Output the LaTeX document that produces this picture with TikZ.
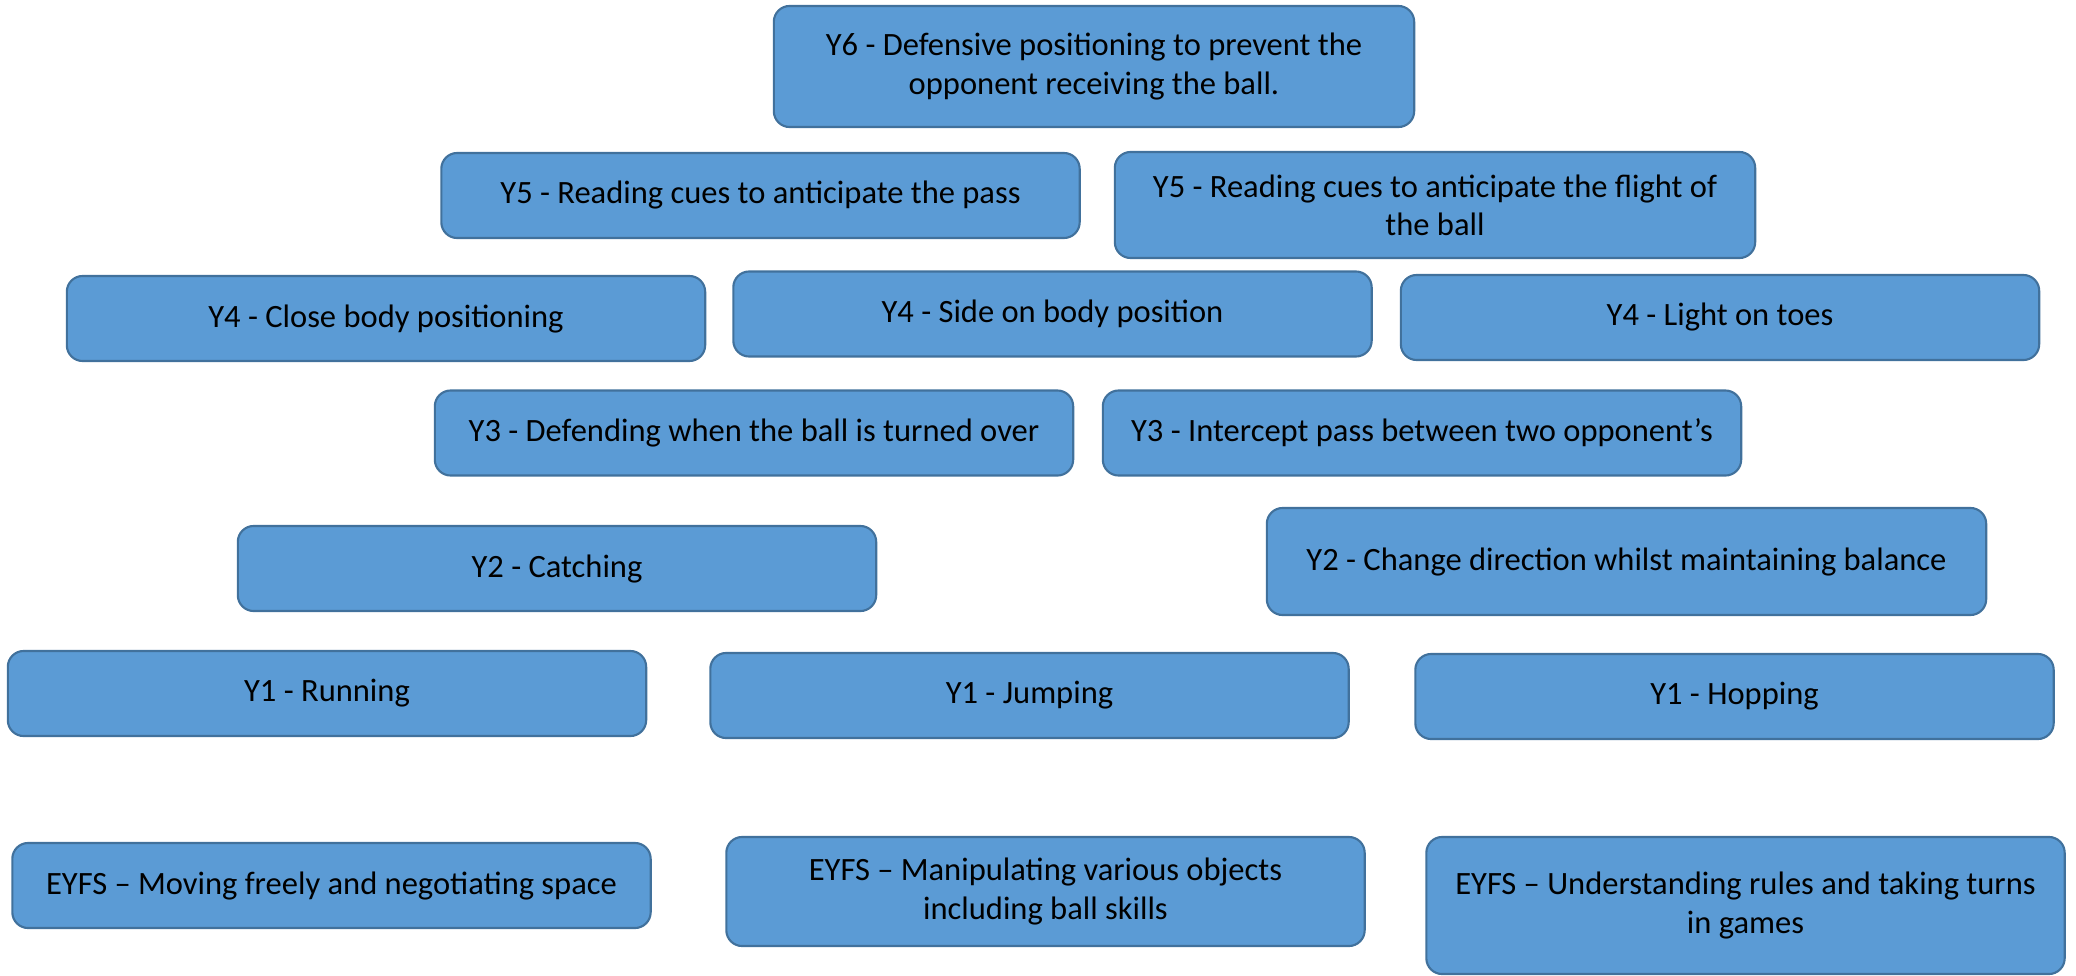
\documentclass[tikz,border=0pt]{standalone}
\usepackage{fontspec}
\setmainfont{Carlito}
\usepackage{xcolor}
\usepackage{tikz}
\definecolor{boxfill}{HTML}{5B9BD5}
\definecolor{boxline}{HTML}{41719C}
\tikzstyle{skill}=[draw=boxline,fill=boxfill,line width=.6pt,rounded corners=4.5pt,
	align=center,inner sep=0pt,minimum width=6.38cm,minimum height=.85cm,
	font=\fontsize{9.25}{10.9}\selectfont]
\tikzstyle{tall}=[skill,minimum height=1.07cm]

\begin{document}
\begin{tikzpicture}[x=.01cm,y=-.01cm]
	\useasboundingbox (0,0) rectangle (2076,976);
	\node[skill,minimum width=6.4cm,minimum height=1.21cm] (y6) at (1094,66.5)
		{Y6 - Defensive positioning to prevent the\\opponent receiving the ball.};
	\node[skill] (y5l) at (760.5,195.5) {Y5 - Reading cues to anticipate the pass};
	\node[tall,minimum width=6.4cm,minimum height=1.06cm] (y5r) at (1435,205)
		{Y5 - Reading cues to anticipate the flight of\\the ball};
	\node[skill] (y4l) at (386,318.5) {Y4 - Close body positioning};
	\node[skill] (y4m) at (1052.5,314) {Y4 - Side on body position};
	\node[skill] (y4r) at (1720,317.5) {Y4 - Light on toes};
	\node[skill] (y3l) at (754,433) {Y3 - Defending when the ball is turned over};
	\node[skill] (y3r) at (1422,433) {Y3 - Intercept pass between two opponent’s};
	\node[skill] (y2l) at (557,568.5) {Y2 - Catching};
	\node[tall,minimum width=7.19cm] (y2r) at (1626.5,561.5) {Y2 - Change direction whilst maintaining balance};
	\node[skill] (y1l) at (327,693.5) {Y1 - Running};
	\node[skill] (y1m) at (1029.5,695.5) {Y1 - Jumping};
	\node[skill] (y1r) at (1734.5,696.5) {Y1 - Hopping};
	\node[skill] (eyl) at (331.5,885.5) {EYFS – Moving freely and negotiating space};
	\node[tall,minimum height=1.09cm] (eym) at (1045.5,891.5)
		{EYFS – Manipulating various objects\\including ball skills};
	\node[tall,minimum height=1.37cm] (eyr) at (1745.5,905.5)
		{EYFS – Understanding rules and taking turns\\in games};
\end{tikzpicture}
\end{document}
